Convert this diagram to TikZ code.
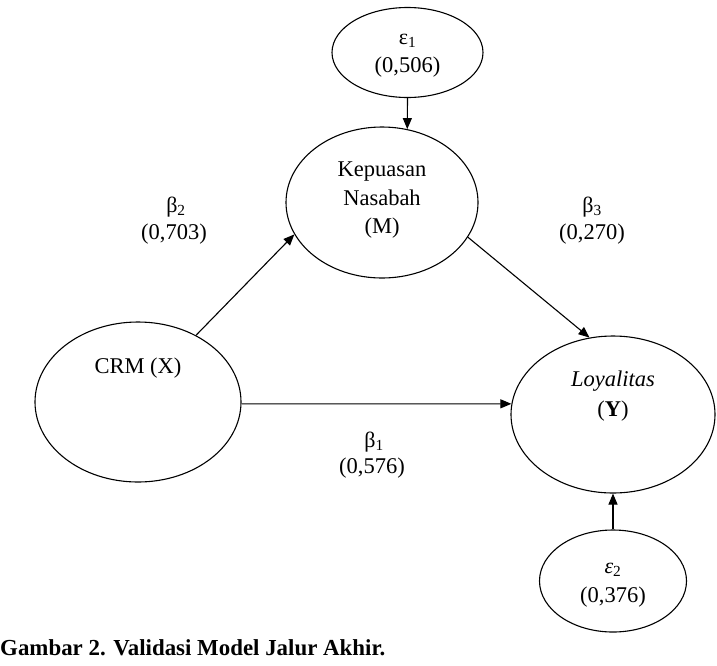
\documentclass[tikz,border=0pt]{standalone}
\usepackage{fontspec}
\setmainfont{Liberation Serif}
\usetikzlibrary{shapes.geometric,arrows.meta}
\begin{document}
\begin{tikzpicture}[x=1pt,y=-1pt,
  ell/.style={draw,ellipse,line width=1.1pt,inner sep=0pt},
  txt/.style={anchor=base,inner sep=0pt,font=\fontsize{22.5}{28}\selectfont},
  grk/.style={anchor=base,inner sep=0pt,font=\fontsize{22}{26}\selectfont},
  arr/.style={line width=1.1pt,-{Triangle[length=11pt,width=9pt]}}]
\useasboundingbox (0,0) rectangle (717,665);
% ellipses
\node[ell,minimum width=151pt,minimum height=90pt] (e1) at (407.5,52.5) {};
\node[ell,minimum width=192pt,minimum height=151pt] (kep) at (382,202.5) {};
\node[ell,minimum width=206pt,minimum height=160pt] (crm) at (138,402) {};
\node[ell,minimum width=204pt,minimum height=157pt] (loy) at (613,414.5) {};
\node[ell,minimum width=147pt,minimum height=102pt] (e2) at (613,581) {};
% texts
\node[grk] (e1a) at (407.5,44) {ε\textsubscript{1}};
\node[txt] (e1b) at (407.5,72) {(0,506)};
\node[txt] (k1) at (382,176) {Kepuasan};
\node[txt] (k2) at (382,205) {Nasabah};
\node[txt] (k3) at (382,233) {(M)};
\node[txt] (c1) at (138,373) {CRM (X)};
\node[txt] (l1) at (613,386) {\textit{Loyalitas}};
\node[txt] (l2) at (613,416) {(\textbf{Y})};
\node[grk,font=\fontsize{22}{26}\selectfont\itshape] (e2a) at (613,573) {ε\textsubscript{\upshape 2}};
\node[txt] (e2b) at (613,602) {(0,376)};
% path labels
\node[grk] (b2a) at (176,212) {β\textsubscript{2}};
\node[txt] (b2b) at (174,239) {(0,703)};
\node[grk] (b3a) at (592,212) {β\textsubscript{3}};
\node[txt] (b3b) at (592,239) {(0,270)};
\node[grk] (b1a) at (374,447) {β\textsubscript{1}};
\node[txt] (b1b) at (372,473) {(0,576)};
% connectors
\draw[arr] (e1.south) -- (kep.71);
\draw[arr] (crm.49) -- (kep.200.7);
\draw[arr] (kep.-22) -- (loy.107.5);
\draw[arr] (crm.-1) -- (loy.174);
\draw[arr] (e2.north) -- (loy.south);
% caption
\node[anchor=base west,inner sep=0pt,font=\fontsize{22.9}{28}\selectfont\bfseries] (cap) at (0,655) {Gambar 2. Validasi Model Jalur Akhir.};
\end{tikzpicture}
\end{document}
